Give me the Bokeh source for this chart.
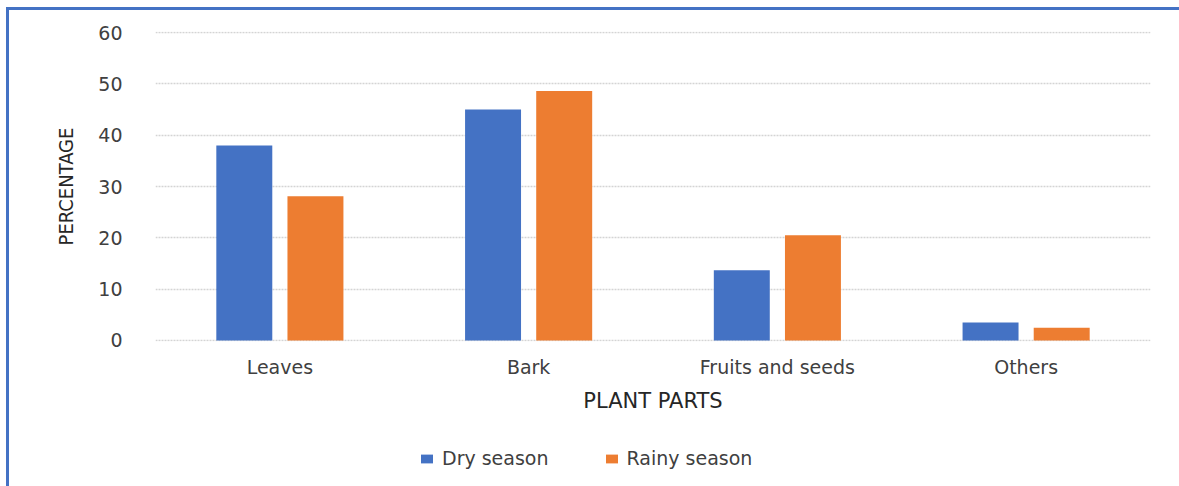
from bokeh.plotting import figure
from bokeh.models import ColumnDataSource, FactorRange, Legend, LegendItem
from bokeh.layouts import column
from bokeh.transform import dodge
from bokeh.embed import file_html
from bokeh.resources import INLINE

categories = ["Leaves", "Bark", "Fruits and seeds", "Others"]
dry_season = [38.0, 45.0, 13.7, 3.5]
rainy_season = [28.1, 48.6, 20.5, 2.5]
y_ticks = [0, 10, 20, 30, 40, 50, 60]
series_names = ["Dry season", "Rainy season"]

blue = "#4472C4"
orange = "#ED7D31"
font = "DejaVu Sans"

source = ColumnDataSource(data=dict(cat=categories, dry=dry_season, rainy=rainy_season))

p = figure(width=1179, height=420, output_backend="svg", toolbar_location=None,
           x_range=FactorRange(*categories, range_padding=0), y_range=(-0.2, 60.2))
p.min_border_left = 155
p.min_border_right = 29
p.min_border_top = 31
p.min_border_bottom = 79
p.outline_line_color = None
p.border_fill_alpha = 0
p.background_fill_alpha = 0

p.vbar(x=dodge("cat", -0.143, range=p.x_range), top="dry", width=0.225, source=source,
       fill_color=blue, line_color=None)
p.vbar(x=dodge("cat", 0.143, range=p.x_range), top="rainy", width=0.225, source=source,
       fill_color=orange, line_color=None)

p.xgrid.grid_line_color = None
p.ygrid.grid_line_color = "#d4d4d4"
p.ygrid.grid_line_dash = "2 1"
p.ygrid.grid_line_width = 1.5
p.yaxis.ticker = y_ticks

for ax in (p.xaxis[0], p.yaxis[0]):
    ax.axis_line_color = None
    ax.major_tick_line_color = None
    ax.minor_tick_line_color = None
    ax.major_label_text_font = font
    ax.major_label_text_font_size = "19px"
    ax.major_label_text_color = "#404040"
    ax.axis_label_text_font_style = "normal"
    ax.axis_label_text_color = "#262626"

p.yaxis.major_label_standoff = 27
p.xaxis.major_label_standoff = 8
p.xaxis.axis_label = "PLANT PARTS"
p.xaxis.axis_label_text_font = font
p.xaxis.axis_label_text_font_size = "21px"
p.xaxis.axis_label_standoff = 8
p.yaxis.axis_label = "PERCENTAGE"
p.yaxis.axis_label_text_font = "DejaVu Sans Condensed"
p.yaxis.axis_label_text_font_size = "20px"
p.yaxis.axis_label_standoff = 17

# legend strip below the chart
p2 = figure(width=1179, height=66, output_backend="svg", toolbar_location=None,
            x_axis_type=None, y_axis_type=None, x_range=(0, 1), y_range=(0, 1))
p2.min_border = 0
p2.outline_line_color = None
p2.border_fill_alpha = 0
p2.background_fill_alpha = 0
p2.xgrid.grid_line_color = None
p2.ygrid.grid_line_color = None
lr1 = p2.vbar(x=[5], top=[-5], width=0.1, fill_color=blue, line_color=None)
lr2 = p2.vbar(x=[5], top=[-5], width=0.1, fill_color=orange, line_color=None)

legend = Legend(items=[LegendItem(label=series_names[0], renderers=[lr1]),
                       LegendItem(label=series_names[1], renderers=[lr2])],
                orientation="horizontal", location=(264, 17),
                label_text_font=font, label_text_font_size="19px", label_text_color="#404040",
                glyph_width=15, glyph_height=11, spacing=55, padding=0, margin=0,
                border_line_color=None, background_fill_alpha=0, label_standoff=8)
p2.add_layout(legend, "center")

layout = column(p, p2, spacing=0)
layout.styles = {
    "background-color": "white",
    "background-image": "linear-gradient(#4472C4,#4472C4), linear-gradient(#4472C4,#4472C4)",
    "background-size": "3px 100%, 100% 3px",
    "background-position": "6px 7px, 6px 7px",
    "background-repeat": "no-repeat",
}

open("out.html", "w").write(file_html(layout, INLINE))
